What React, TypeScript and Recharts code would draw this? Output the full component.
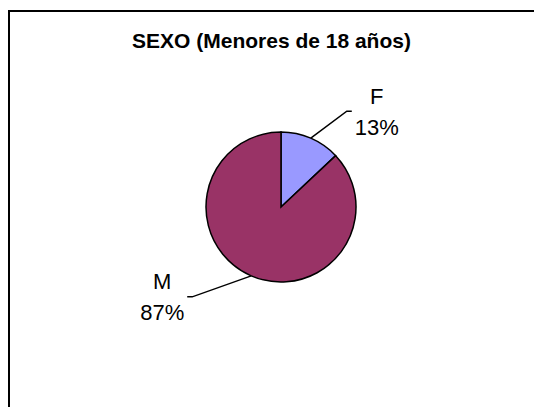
import React from "react";
import { Cell, Pie, PieChart } from "recharts";

const categories = ["F", "M"];
const shares = [13, 87];
const sliceColors = ["#9999FF", "#993366"];

const data = categories.map((name, i) => ({ name, value: shares[i] }));

// elbow offsets of the leader lines, measured from the slice edge
const leaderOffsets: Record<string, { dx: number; dy: number }> = {
  F: { dx: 36, dy: -27 },
  M: { dx: -59, dy: 21 },
};

const RAD = Math.PI / 180;
const font = "'Liberation Sans', Arial, sans-serif";

function renderLabel(props: any) {
  const { cx, cy, midAngle, outerRadius, name, percent } = props;
  const sx = cx + outerRadius * Math.cos(-midAngle * RAD);
  const sy = cy + outerRadius * Math.sin(-midAngle * RAD);
  const off = leaderOffsets[name] ?? { dx: 30, dy: 0 };
  const ex = sx + off.dx;
  const ey = sy + off.dy;
  const side = off.dx >= 0 ? 1 : -1;
  const hx = ex + side * 5;
  const tx = hx + side * 25;
  return (
    <g>
      <polyline
        points={`${sx},${sy} ${ex},${ey} ${hx},${ey}`}
        fill="none"
        stroke="#000"
        strokeWidth={1.5}
      />
      <text x={tx} y={ey - 15} textAnchor="middle" dominantBaseline="central" fontFamily={font} fontSize={22} fill="#000">
        {name}
      </text>
      <text x={tx} y={ey + 16} textAnchor="middle" dominantBaseline="central" fontFamily={font} fontSize={22} fill="#000">
        {`${Math.round(percent * 100)}%`}
      </text>
    </g>
  );
}

export default function App() {
  return (
    <div
      style={{
        position: "fixed",
        left: 8,
        top: 10,
        right: 0,
        bottom: 0,
        overflow: "hidden",
        background: "#fff",
      }}
    >
      <div
        style={{
          position: "relative",
          width: 540,
          height: 420,
          borderLeft: "2px solid #000",
          borderTop: "2px solid #000",
        }}
      >
        <div
          style={{
            position: "absolute",
            left: 0,
            top: 17,
            width: 523,
            textAlign: "center",
            fontFamily: font,
            fontWeight: "bold",
            fontSize: 21,
            color: "#000",
          }}
        >
          SEXO (Menores de 18 años)
        </div>
        <PieChart width={526} height={397} margin={{ top: 0, right: 0, bottom: 0, left: 0 }}>
          <Pie
            data={data}
            dataKey="value"
            nameKey="name"
            cx={271}
            cy={195}
            outerRadius={75}
            startAngle={90}
            endAngle={-270}
            stroke="#000"
            strokeWidth={1.5}
            label={renderLabel}
            labelLine={false}
            isAnimationActive={false}
          >
            {data.map((entry, i) => (
              <Cell key={entry.name} fill={sliceColors[i]} />
            ))}
          </Pie>
        </PieChart>
      </div>
    </div>
  );
}
